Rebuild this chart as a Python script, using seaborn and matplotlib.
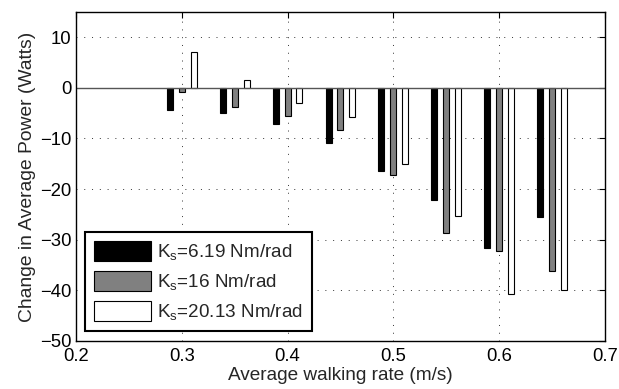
import matplotlib
matplotlib.use("Agg")
import matplotlib.pyplot as plt
import seaborn as sns
import pandas as pd

# Walking rates (m/s) and change in average power (W) for three spring stiffnesses
rates = [0.30, 0.35, 0.40, 0.45, 0.50, 0.55, 0.60, 0.65]
ks_labels = ["K$_\\mathregular{s}$=6.19 Nm/rad",
             "K$_\\mathregular{s}$=16 Nm/rad",
             "K$_\\mathregular{s}$=20.13 Nm/rad"]
power_ks_619 = [-4.3, -5.0, -7.2, -10.8, -16.5, -22.2, -31.6, -25.6]
power_ks_16 = [-0.9, -3.7, -5.6, -8.3, -17.3, -28.7, -32.2, -36.2]
power_ks_2013 = [7.2, 1.5, -3.0, -5.8, -15.0, -25.3, -40.8, -40.0]

df = pd.DataFrame({
    "rate": rates * 3,
    "power": power_ks_619 + power_ks_16 + power_ks_2013,
    "Ks": [ks_labels[0]] * len(rates) + [ks_labels[1]] * len(rates) + [ks_labels[2]] * len(rates),
})

sns.set_style("white")
plt.rcParams["font.family"] = ["Liberation Sans", "DejaVu Sans"]
plt.rcParams["mathtext.fontset"] = "custom"
plt.rcParams["mathtext.rm"] = "Liberation Sans"
plt.rcParams["mathtext.it"] = "Liberation Sans"

fig = plt.figure(figsize=(6.19, 3.89), dpi=100)
ax = fig.add_axes([0.123, 0.124, 0.977 - 0.123, 0.969 - 0.124])

sns.barplot(data=df, x="rate", y="power", hue="Ks", hue_order=ks_labels,
            native_scale=True, palette=["black", "#808080", "white"],
            width=0.672, gap=0.49, edgecolor="black", linewidth=0.8,
            errorbar=None, ax=ax, legend=True)

ax.axhline(0, color="#555555", lw=1.0, zorder=1)

ax.set_xlim(0.2, 0.7)
ax.set_ylim(-50, 15)
ax.set_xticks([0.2, 0.3, 0.4, 0.5, 0.6, 0.7])
ax.set_xticklabels(["0.2", "0.3", "0.4", "0.5", "0.6", "0.7"])
ax.set_yticks([-50, -40, -30, -20, -10, 0, 10])

ax.grid(True, color="#333333", linestyle=(0, (1, 7)), linewidth=0.7)
ax.set_axisbelow(True)
for sp in ax.spines.values():
    sp.set_visible(True)
    sp.set_color("black")
    sp.set_linewidth(1.0)
ax.tick_params(direction="in", length=4, width=0.8, top=True, right=True,
               labelsize=13.3, colors="black")
ax.tick_params(axis="x", pad=5.5)
ax.tick_params(axis="y", pad=3.5)

ax.set_xlabel("Average walking rate (m/s)", fontsize=13.7, labelpad=1)
ax.set_ylabel("Change in Average Power (Watts)", fontsize=13.9, labelpad=3)

handles, labels = ax.get_legend_handles_labels()
leg = ax.legend(handles, labels, loc="lower left", bbox_to_anchor=(0.017, 0.03),
                borderaxespad=0, fancybox=False, framealpha=1, edgecolor="black",
                fontsize=13.6, handlelength=3.05, handleheight=1.3, handletextpad=0.33,
                labelspacing=0.45, borderpad=0.45)
leg.get_frame().set_linewidth(1.5)

fig.savefig("out.png", dpi=100)
